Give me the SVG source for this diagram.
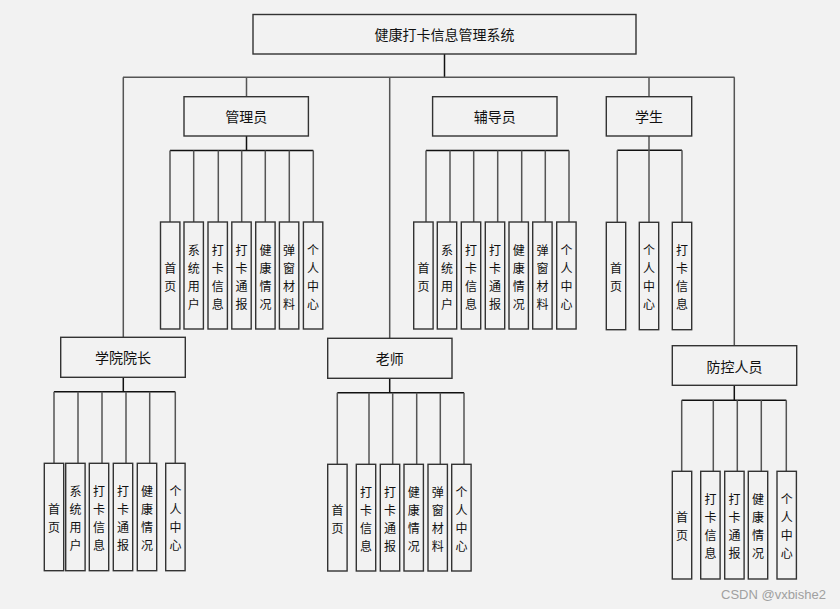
<svg xmlns="http://www.w3.org/2000/svg" width="840" height="609" viewBox="0 0 840 609">
<style>
.bx{fill:#f2f2f2;stroke:#333;stroke-width:1.4}
.ln{fill:none;stroke:#555;stroke-width:1.5}
.lk{fill:none;stroke:#111;stroke-width:1.5}
.t{font-family:"Noto Sans CJK SC","Noto Sans",sans-serif;font-size:14px;fill:#111;text-anchor:middle;dominant-baseline:central}
.v{font-family:"Noto Sans CJK SC","Noto Sans",sans-serif;font-size:12px;fill:#111;text-anchor:middle;dominant-baseline:central}
.wm{font-family:"Liberation Sans",Arial,sans-serif;font-size:13px;fill:#a0a0a0}
</style>
<rect x="0" y="0" width="840" height="609" fill="#f2f2f2"/>
<g id="connectors">
<path class="lk" d="M444.5 54V77.3"/>
<path class="ln" d="M123 77.3H734.5"/>
<path class="ln" d="M123.3 77.3V337.3M246.5 77.3V96.7M389.7 77.3V338.3M649 77.3V96.7M734.3 77.3V345.7"/>
<path class="lk" d="M246.5 136V150.5M170 150.5H313.3"/>
<path class="ln" d="M170 150.5V222M193.7 150.5V222M218.3 150.5V222M241.7 150.5V222M265.3 150.5V222M289.3 150.5V222M313.3 150.5V222"/>
<path class="lk" d="M426 150.5H569"/>
<path class="ln" d="M426 150.5V222M450 150.5V222M473.7 150.5V222M497.7 150.5V222M521.7 150.5V222M545.3 150.5V222M569 150.5V222"/>
<path class="lk" d="M617.3 150.3H682"/>
<path class="ln" d="M649 136V222M617.3 150.3V222M682 150.3V222"/>
<path class="lk" d="M123.3 377.3V391.7M54 391.7H175.3"/>
<path class="ln" d="M54 391.7V463.3M78 391.7V463.3M102 391.7V463.3M126 391.7V463.3M149.7 391.7V463.3M175.3 391.7V463.3"/>
<path class="lk" d="M389.7 378.3V392.7M337.3 392.7H464"/>
<path class="ln" d="M337.3 392.7V464.3M369 392.7V464.3M392.7 392.7V464.3M416.7 392.7V464.3M440.3 392.7V464.3M464 392.7V464.3"/>
<path class="lk" d="M734.3 385.3V400.3M681.7 400.3H786.3"/>
<path class="ln" d="M681.7 400.3V471.3M713.3 400.3V471.3M737.3 400.3V471.3M761.3 400.3V471.3M786.3 400.3V471.3"/>
</g>

<g id="root"><rect class="bx" x="253" y="14.5" width="383" height="39.5"/><text class="t" x="444.5" y="34">健康打卡信息管理系统</text></g>

<g id="admin"><rect class="bx" x="184" y="96.7" width="124.4" height="39.3"/><text class="t" x="246.2" y="116.3">管理员</text></g>
<g id="counselor"><rect class="bx" x="432.6" y="96.7" width="124.4" height="39.3"/><text class="t" x="494.8" y="116.3">辅导员</text></g>
<g id="student"><rect class="bx" x="606.3" y="96.7" width="85.4" height="39.3"/><text class="t" x="649" y="116.3">学生</text></g>
<g id="dean"><rect class="bx" x="60.7" y="337.3" width="124.6" height="40"/><text class="t" x="123" y="357.3">学院院长</text></g>
<g id="teacher"><rect class="bx" x="327.7" y="338.3" width="124.3" height="40"/><text class="t" x="389.8" y="358.3">老师</text></g>
<g id="epidemic"><rect class="bx" x="672.3" y="345.7" width="124.4" height="39.6"/><text class="t" x="734.5" y="365.5">防控人员</text></g>

<g id="a1"><rect class="bx" x="160.5" y="222" width="19.4" height="107"/><text class="v"><tspan x="170.2" y="266.5">首</tspan><tspan x="170.2" y="284.5">页</tspan></text></g>
<g id="a2"><rect class="bx" x="184" y="222" width="19.4" height="107"/><text class="v"><tspan x="193.7" y="248.5">系</tspan><tspan x="193.7" y="266.5">统</tspan><tspan x="193.7" y="284.5">用</tspan><tspan x="193.7" y="302.5">户</tspan></text></g>
<g id="a3"><rect class="bx" x="208" y="222" width="19.4" height="107"/><text class="v"><tspan x="217.7" y="248.5">打</tspan><tspan x="217.7" y="266.5">卡</tspan><tspan x="217.7" y="284.5">信</tspan><tspan x="217.7" y="302.5">息</tspan></text></g>
<g id="a4"><rect class="bx" x="231.8" y="222" width="19.4" height="107"/><text class="v"><tspan x="241.5" y="248.5">打</tspan><tspan x="241.5" y="266.5">卡</tspan><tspan x="241.5" y="284.5">通</tspan><tspan x="241.5" y="302.5">报</tspan></text></g>
<g id="a5"><rect class="bx" x="255.7" y="222" width="19.4" height="107"/><text class="v"><tspan x="265.4" y="248.5">健</tspan><tspan x="265.4" y="266.5">康</tspan><tspan x="265.4" y="284.5">情</tspan><tspan x="265.4" y="302.5">况</tspan></text></g>
<g id="a6"><rect class="bx" x="279.4" y="222" width="19.4" height="107"/><text class="v"><tspan x="289.1" y="248.5">弹</tspan><tspan x="289.1" y="266.5">窗</tspan><tspan x="289.1" y="284.5">材</tspan><tspan x="289.1" y="302.5">料</tspan></text></g>
<g id="a7"><rect class="bx" x="303.4" y="222" width="19.4" height="107"/><text class="v"><tspan x="313.1" y="248.5">个</tspan><tspan x="313.1" y="266.5">人</tspan><tspan x="313.1" y="284.5">中</tspan><tspan x="313.1" y="302.5">心</tspan></text></g>

<g id="c1"><rect class="bx" x="413.7" y="222" width="19.4" height="107"/><text class="v"><tspan x="423.4" y="266.5">首</tspan><tspan x="423.4" y="284.5">页</tspan></text></g>
<g id="c2"><rect class="bx" x="437.3" y="222" width="19.4" height="107"/><text class="v"><tspan x="447" y="248.5">系</tspan><tspan x="447" y="266.5">统</tspan><tspan x="447" y="284.5">用</tspan><tspan x="447" y="302.5">户</tspan></text></g>
<g id="c3"><rect class="bx" x="461.3" y="222" width="19.4" height="107"/><text class="v"><tspan x="471" y="248.5">打</tspan><tspan x="471" y="266.5">卡</tspan><tspan x="471" y="284.5">信</tspan><tspan x="471" y="302.5">息</tspan></text></g>
<g id="c4"><rect class="bx" x="485.3" y="222" width="19.4" height="107"/><text class="v"><tspan x="495" y="248.5">打</tspan><tspan x="495" y="266.5">卡</tspan><tspan x="495" y="284.5">通</tspan><tspan x="495" y="302.5">报</tspan></text></g>
<g id="c5"><rect class="bx" x="509" y="222" width="19.4" height="107"/><text class="v"><tspan x="518.7" y="248.5">健</tspan><tspan x="518.7" y="266.5">康</tspan><tspan x="518.7" y="284.5">情</tspan><tspan x="518.7" y="302.5">况</tspan></text></g>
<g id="c6"><rect class="bx" x="532.7" y="222" width="19.4" height="107"/><text class="v"><tspan x="542.4" y="248.5">弹</tspan><tspan x="542.4" y="266.5">窗</tspan><tspan x="542.4" y="284.5">材</tspan><tspan x="542.4" y="302.5">料</tspan></text></g>
<g id="c7"><rect class="bx" x="556.7" y="222" width="19.4" height="107"/><text class="v"><tspan x="566.4" y="248.5">个</tspan><tspan x="566.4" y="266.5">人</tspan><tspan x="566.4" y="284.5">中</tspan><tspan x="566.4" y="302.5">心</tspan></text></g>

<g id="s1"><rect class="bx" x="606.3" y="222.3" width="19.4" height="107.4"/><text class="v"><tspan x="616" y="267">首</tspan><tspan x="616" y="285">页</tspan></text></g>
<g id="s2"><rect class="bx" x="639.3" y="222.3" width="19.4" height="107.4"/><text class="v"><tspan x="649" y="249">个</tspan><tspan x="649" y="267">人</tspan><tspan x="649" y="285">中</tspan><tspan x="649" y="303">心</tspan></text></g>
<g id="s3"><rect class="bx" x="672.3" y="222.3" width="19.4" height="107.4"/><text class="v"><tspan x="682" y="249">打</tspan><tspan x="682" y="267">卡</tspan><tspan x="682" y="285">信</tspan><tspan x="682" y="303">息</tspan></text></g>

<g id="d1"><rect class="bx" x="44.3" y="463.3" width="19.4" height="107.4"/><text class="v"><tspan x="54" y="508">首</tspan><tspan x="54" y="526">页</tspan></text></g>
<g id="d2"><rect class="bx" x="65.7" y="463.3" width="19.4" height="107.4"/><text class="v"><tspan x="75.4" y="490">系</tspan><tspan x="75.4" y="508">统</tspan><tspan x="75.4" y="526">用</tspan><tspan x="75.4" y="544">户</tspan></text></g>
<g id="d3"><rect class="bx" x="89.3" y="463.3" width="19.4" height="107.4"/><text class="v"><tspan x="99" y="490">打</tspan><tspan x="99" y="508">卡</tspan><tspan x="99" y="526">信</tspan><tspan x="99" y="544">息</tspan></text></g>
<g id="d4"><rect class="bx" x="113.3" y="463.3" width="19.4" height="107.4"/><text class="v"><tspan x="123" y="490">打</tspan><tspan x="123" y="508">卡</tspan><tspan x="123" y="526">通</tspan><tspan x="123" y="544">报</tspan></text></g>
<g id="d5"><rect class="bx" x="137.3" y="463.3" width="19.4" height="107.4"/><text class="v"><tspan x="147" y="490">健</tspan><tspan x="147" y="508">康</tspan><tspan x="147" y="526">情</tspan><tspan x="147" y="544">况</tspan></text></g>
<g id="d6"><rect class="bx" x="165.7" y="463.3" width="19.4" height="107.4"/><text class="v"><tspan x="175.4" y="490">个</tspan><tspan x="175.4" y="508">人</tspan><tspan x="175.4" y="526">中</tspan><tspan x="175.4" y="544">心</tspan></text></g>

<g id="t1"><rect class="bx" x="327.7" y="464.3" width="19.4" height="106.7"/><text class="v"><tspan x="337.4" y="508.7">首</tspan><tspan x="337.4" y="526.7">页</tspan></text></g>
<g id="t2"><rect class="bx" x="356.3" y="464.3" width="19.4" height="106.7"/><text class="v"><tspan x="366" y="490.7">打</tspan><tspan x="366" y="508.7">卡</tspan><tspan x="366" y="526.7">信</tspan><tspan x="366" y="544.7">息</tspan></text></g>
<g id="t3"><rect class="bx" x="380.3" y="464.3" width="19.4" height="106.7"/><text class="v"><tspan x="390" y="490.7">打</tspan><tspan x="390" y="508.7">卡</tspan><tspan x="390" y="526.7">通</tspan><tspan x="390" y="544.7">报</tspan></text></g>
<g id="t4"><rect class="bx" x="404" y="464.3" width="19.4" height="106.7"/><text class="v"><tspan x="413.7" y="490.7">健</tspan><tspan x="413.7" y="508.7">康</tspan><tspan x="413.7" y="526.7">情</tspan><tspan x="413.7" y="544.7">况</tspan></text></g>
<g id="t5"><rect class="bx" x="428" y="464.3" width="19.4" height="106.7"/><text class="v"><tspan x="437.7" y="490.7">弹</tspan><tspan x="437.7" y="508.7">窗</tspan><tspan x="437.7" y="526.7">材</tspan><tspan x="437.7" y="544.7">料</tspan></text></g>
<g id="t6"><rect class="bx" x="451.7" y="464.3" width="19.4" height="106.7"/><text class="v"><tspan x="461.4" y="490.7">个</tspan><tspan x="461.4" y="508.7">人</tspan><tspan x="461.4" y="526.7">中</tspan><tspan x="461.4" y="544.7">心</tspan></text></g>

<g id="e1"><rect class="bx" x="672.3" y="471.3" width="19.4" height="107.7"/><text class="v"><tspan x="682" y="516">首</tspan><tspan x="682" y="534">页</tspan></text></g>
<g id="e2"><rect class="bx" x="700.7" y="471.3" width="19.4" height="107.7"/><text class="v"><tspan x="710.4" y="498">打</tspan><tspan x="710.4" y="516">卡</tspan><tspan x="710.4" y="534">信</tspan><tspan x="710.4" y="552">息</tspan></text></g>
<g id="e3"><rect class="bx" x="724.7" y="471.3" width="19.4" height="107.7"/><text class="v"><tspan x="734.4" y="498">打</tspan><tspan x="734.4" y="516">卡</tspan><tspan x="734.4" y="534">通</tspan><tspan x="734.4" y="552">报</tspan></text></g>
<g id="e4"><rect class="bx" x="748.3" y="471.3" width="19.4" height="107.7"/><text class="v"><tspan x="758" y="498">健</tspan><tspan x="758" y="516">康</tspan><tspan x="758" y="534">情</tspan><tspan x="758" y="552">况</tspan></text></g>
<g id="e5"><rect class="bx" x="777" y="471.3" width="19.4" height="107.7"/><text class="v"><tspan x="786.7" y="498">个</tspan><tspan x="786.7" y="516">人</tspan><tspan x="786.7" y="534">中</tspan><tspan x="786.7" y="552">心</tspan></text></g>

<text class="wm" x="721" y="599">CSDN @vxbishe2</text>
</svg>
